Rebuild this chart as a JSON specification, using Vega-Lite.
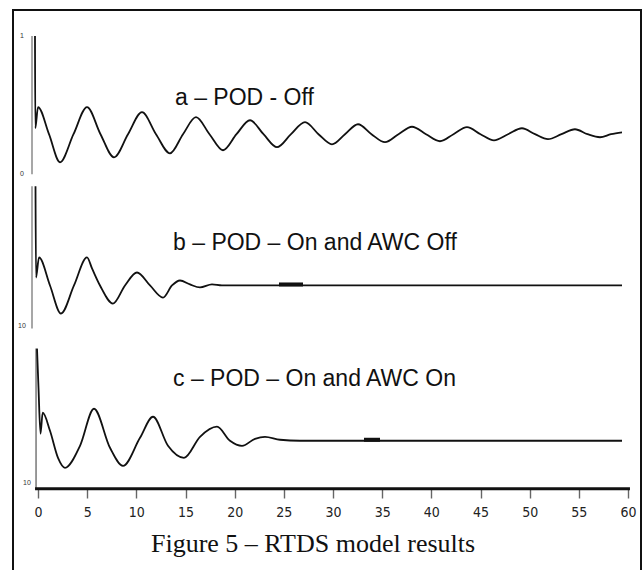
{
  "$schema": "https://vega.github.io/schema/vega-lite/v6.json",
  "width": 643,
  "height": 570,
  "autosize": {"type": "fit", "contains": "padding"},
  "padding": {"left": 13, "top": 10, "right": 2, "bottom": -1},
  "background": "white",
  "config": {
    "view": {"stroke": "#111111", "strokeWidth": 2},
    "text": {"font": "Liberation Sans", "color": "#111111"}
  },
  "datasets": {
    "signal": [
      {"panel": "a", "t": -0.305, "v": 1.0},
      {"panel": "a", "t": -0.275, "v": 0.333},
      {"panel": "a", "t": 0.0, "v": 0.486},
      {"panel": "a", "t": 1.119, "v": 0.29},
      {"panel": "a", "t": 2.237, "v": 0.087},
      {"panel": "a", "t": 3.61, "v": 0.29},
      {"panel": "a", "t": 4.983, "v": 0.486},
      {"panel": "a", "t": 6.356, "v": 0.29},
      {"panel": "a", "t": 7.729, "v": 0.123},
      {"panel": "a", "t": 9.153, "v": 0.29},
      {"panel": "a", "t": 10.576, "v": 0.449},
      {"panel": "a", "t": 12.0, "v": 0.29},
      {"panel": "a", "t": 13.424, "v": 0.152},
      {"panel": "a", "t": 14.746, "v": 0.29},
      {"panel": "a", "t": 16.068, "v": 0.413},
      {"panel": "a", "t": 17.441, "v": 0.29},
      {"panel": "a", "t": 18.814, "v": 0.174},
      {"panel": "a", "t": 20.186, "v": 0.29},
      {"panel": "a", "t": 21.559, "v": 0.391},
      {"panel": "a", "t": 22.932, "v": 0.29},
      {"panel": "a", "t": 24.305, "v": 0.196},
      {"panel": "a", "t": 25.729, "v": 0.29},
      {"panel": "a", "t": 27.153, "v": 0.377},
      {"panel": "a", "t": 28.525, "v": 0.29},
      {"panel": "a", "t": 29.898, "v": 0.217},
      {"panel": "a", "t": 31.22, "v": 0.29},
      {"panel": "a", "t": 32.542, "v": 0.362},
      {"panel": "a", "t": 33.915, "v": 0.29},
      {"panel": "a", "t": 35.288, "v": 0.232},
      {"panel": "a", "t": 36.661, "v": 0.29},
      {"panel": "a", "t": 38.034, "v": 0.344},
      {"panel": "a", "t": 39.458, "v": 0.29},
      {"panel": "a", "t": 40.881, "v": 0.239},
      {"panel": "a", "t": 42.254, "v": 0.29},
      {"panel": "a", "t": 43.627, "v": 0.341},
      {"panel": "a", "t": 45.0, "v": 0.29},
      {"panel": "a", "t": 46.373, "v": 0.246},
      {"panel": "a", "t": 47.797, "v": 0.29},
      {"panel": "a", "t": 49.22, "v": 0.333},
      {"panel": "a", "t": 50.542, "v": 0.29},
      {"panel": "a", "t": 51.864, "v": 0.254},
      {"panel": "a", "t": 53.237, "v": 0.29},
      {"panel": "a", "t": 54.61, "v": 0.326},
      {"panel": "a", "t": 55.881, "v": 0.29},
      {"panel": "a", "t": 57.153, "v": 0.268},
      {"panel": "a", "t": 58.27, "v": 0.29},
      {"panel": "a", "t": 59.39, "v": 0.304},

      {"panel": "b", "t": -0.254, "v": 1.0},
      {"panel": "b", "t": -0.203, "v": 0.359},
      {"panel": "b", "t": 0.102, "v": 0.5},
      {"panel": "b", "t": 1.22, "v": 0.303},
      {"panel": "b", "t": 2.339, "v": 0.106},
      {"panel": "b", "t": 3.661, "v": 0.303},
      {"panel": "b", "t": 4.983, "v": 0.5},
      {"panel": "b", "t": 5.492, "v": 0.423},
      {"panel": "b", "t": 6.305, "v": 0.303},
      {"panel": "b", "t": 7.627, "v": 0.176},
      {"panel": "b", "t": 8.847, "v": 0.303},
      {"panel": "b", "t": 10.068, "v": 0.394},
      {"panel": "b", "t": 11.39, "v": 0.303},
      {"panel": "b", "t": 12.712, "v": 0.218},
      {"panel": "b", "t": 13.627, "v": 0.303},
      {"panel": "b", "t": 14.441, "v": 0.338},
      {"panel": "b", "t": 15.458, "v": 0.31},
      {"panel": "b", "t": 16.475, "v": 0.289},
      {"panel": "b", "t": 17.695, "v": 0.31},
      {"panel": "b", "t": 18.712, "v": 0.303},
      {"panel": "b", "t": 59.39, "v": 0.303},

      {"panel": "c", "t": -0.102, "v": 1.0},
      {"panel": "c", "t": 0.051, "v": 0.721},
      {"panel": "c", "t": 0.254, "v": 0.393},
      {"panel": "c", "t": 0.478, "v": 0.543},
      {"panel": "c", "t": 1.22, "v": 0.414},
      {"panel": "c", "t": 2.034, "v": 0.221},
      {"panel": "c", "t": 2.746, "v": 0.15},
      {"panel": "c", "t": 4.271, "v": 0.307},
      {"panel": "c", "t": 5.695, "v": 0.571},
      {"panel": "c", "t": 7.322, "v": 0.293},
      {"panel": "c", "t": 8.644, "v": 0.164},
      {"panel": "c", "t": 10.373, "v": 0.364},
      {"panel": "c", "t": 11.695, "v": 0.514},
      {"panel": "c", "t": 13.22, "v": 0.307},
      {"panel": "c", "t": 14.847, "v": 0.221},
      {"panel": "c", "t": 16.475, "v": 0.371},
      {"panel": "c", "t": 18.203, "v": 0.443},
      {"panel": "c", "t": 19.525, "v": 0.343},
      {"panel": "c", "t": 20.746, "v": 0.307},
      {"panel": "c", "t": 22.068, "v": 0.357},
      {"panel": "c", "t": 23.085, "v": 0.371},
      {"panel": "c", "t": 24.61, "v": 0.35},
      {"panel": "c", "t": 26.644, "v": 0.343},
      {"panel": "c", "t": 59.39, "v": 0.343}
    ],
    "ylabels": [
      {"panel": "a", "v": 1.0, "label": "1"},
      {"panel": "a", "v": 0.0, "label": "0"},
      {"panel": "b", "v": 0.02, "label": "10"},
      {"panel": "c", "v": 0.04, "label": "10"}
    ]
  },
  "layer": [
    {
      "layer": [
        {
          "data": {"values": [{}]},
          "mark": {"type": "rule", "color": "#8a8a8a", "strokeWidth": 1.5},
          "encoding": {
            "x": {"datum": -0.61, "type": "quantitative", "scale": {"domain": [-2.5424, 61.322], "zero": false, "nice": false}},
            "y": {"datum": 0, "type": "quantitative", "scale": {"domain": [-2.86957, 1.18841], "zero": false, "nice": false}, "axis": null},
            "y2": {"datum": 1}
          }
        },
        {
          "data": {"name": "signal"},
          "transform": [{"filter": "datum.panel === 'a'"}],
          "mark": {"type": "line", "color": "#111111", "strokeWidth": 1.8, "interpolate": "monotone"},
          "encoding": {
            "x": {"field": "t", "type": "quantitative", "scale": {"domain": [-2.5424, 61.322], "zero": false, "nice": false}},
            "y": {"field": "v", "type": "quantitative", "scale": {"domain": [-2.86957, 1.18841], "zero": false, "nice": false}, "axis": null}
          }
        },
        {
          "data": {"name": "ylabels"},
          "transform": [{"filter": "datum.panel === 'a'"}],
          "mark": {"type": "text", "fontSize": 7, "color": "#333333", "align": "center", "baseline": "middle"},
          "encoding": {
            "x": {"datum": -1.63, "type": "quantitative", "scale": {"domain": [-2.5424, 61.322], "zero": false, "nice": false}},
            "y": {"field": "v", "type": "quantitative", "scale": {"domain": [-2.86957, 1.18841], "zero": false, "nice": false}, "axis": null},
            "text": {"field": "label"}
          }
        },
        {
          "data": {"values": [{}]},
          "mark": {"type": "text", "text": "a – POD - Off", "fontSize": 23, "align": "left", "baseline": "alphabetic"},
          "encoding": {
            "x": {"datum": 13.93, "type": "quantitative", "scale": {"domain": [-2.5424, 61.322], "zero": false, "nice": false}},
            "y": {"datum": 0.5, "type": "quantitative", "scale": {"domain": [-2.86957, 1.18841], "zero": false, "nice": false}, "axis": null}
          }
        }
      ]
    },
    {
      "layer": [
        {
          "data": {"values": [{}]},
          "mark": {"type": "rule", "color": "#8a8a8a", "strokeWidth": 1.5},
          "encoding": {
            "x": {"datum": -0.61, "type": "quantitative", "scale": {"domain": [-2.5424, 61.322], "zero": false, "nice": false}},
            "y": {"datum": 0, "type": "quantitative", "scale": {"domain": [-1.70423, 2.23944], "zero": false, "nice": false}, "axis": null},
            "y2": {"datum": 1}
          }
        },
        {
          "data": {"name": "signal"},
          "transform": [{"filter": "datum.panel === 'b'"}],
          "mark": {"type": "line", "color": "#111111", "strokeWidth": 1.8, "interpolate": "monotone"},
          "encoding": {
            "x": {"field": "t", "type": "quantitative", "scale": {"domain": [-2.5424, 61.322], "zero": false, "nice": false}},
            "y": {"field": "v", "type": "quantitative", "scale": {"domain": [-1.70423, 2.23944], "zero": false, "nice": false}, "axis": null}
          }
        },
        {
          "data": {"values": [{}]},
          "mark": {"type": "rule", "color": "#111111", "strokeWidth": 4},
          "encoding": {
            "x": {"datum": 24.51, "type": "quantitative", "scale": {"domain": [-2.5424, 61.322], "zero": false, "nice": false}},
            "x2": {"datum": 26.95},
            "y": {"datum": 0.31, "type": "quantitative", "scale": {"domain": [-1.70423, 2.23944], "zero": false, "nice": false}, "axis": null}
          }
        },
        {
          "data": {"name": "ylabels"},
          "transform": [{"filter": "datum.panel === 'b'"}],
          "mark": {"type": "text", "fontSize": 7, "color": "#333333", "align": "center", "baseline": "middle"},
          "encoding": {
            "x": {"datum": -1.63, "type": "quantitative", "scale": {"domain": [-2.5424, 61.322], "zero": false, "nice": false}},
            "y": {"field": "v", "type": "quantitative", "scale": {"domain": [-1.70423, 2.23944], "zero": false, "nice": false}, "axis": null},
            "text": {"field": "label"}
          }
        },
        {
          "data": {"values": [{}]},
          "mark": {"type": "text", "text": "b – POD – On and AWC Off", "fontSize": 23, "align": "left", "baseline": "alphabetic"},
          "encoding": {
            "x": {"datum": 13.73, "type": "quantitative", "scale": {"domain": [-2.5424, 61.322], "zero": false, "nice": false}},
            "y": {"datum": 0.549, "type": "quantitative", "scale": {"domain": [-1.70423, 2.23944], "zero": false, "nice": false}, "axis": null}
          }
        }
      ]
    },
    {
      "layer": [
        {
          "data": {"values": [{}]},
          "mark": {"type": "rule", "color": "#555555", "strokeWidth": 1.2},
          "encoding": {
            "x": {"datum": -0.2, "type": "quantitative", "scale": {"domain": [-2.5424, 61.322], "zero": false, "nice": false}},
            "y": {"datum": 0, "type": "quantitative", "scale": {"domain": [-0.58571, 3.41429], "zero": false, "nice": false}, "axis": null},
            "y2": {"datum": 1}
          }
        },
        {
          "data": {"values": [{}]},
          "mark": {"type": "rule", "color": "#111111", "strokeWidth": 3},
          "encoding": {
            "x": {"datum": -0.3, "type": "quantitative", "scale": {"domain": [-2.5424, 61.322], "zero": false, "nice": false}},
            "x2": {"datum": 60.2},
            "y": {"datum": 0, "type": "quantitative", "scale": {"domain": [-0.58571, 3.41429], "zero": false, "nice": false}, "axis": null}
          }
        },
        {
          "data": {"name": "signal"},
          "transform": [{"filter": "datum.panel === 'c'"}],
          "mark": {"type": "line", "color": "#111111", "strokeWidth": 1.8, "interpolate": "monotone"},
          "encoding": {
            "x": {
              "field": "t",
              "type": "quantitative",
              "scale": {"domain": [-2.5424, 61.322], "zero": false, "nice": false},
              "axis": {
                "values": [0, 5, 10, 15, 20, 25, 30, 35, 40, 45, 50, 55, 60],
                "orient": "bottom",
                "offset": -82,
                "domain": false,
                "grid": false,
                "ticks": true,
                "tickColor": "#666666",
                "tickSize": 9,
                "tickWidth": 1.4,
                "labelFont": "Liberation Sans Narrow, DejaVu Sans Condensed, sans-serif",
                "labelFontSize": 14,
                "labelColor": "#222222",
                "labelPadding": 7,
                "labelFlush": false,
                "labelOverlap": false,
                "title": null
              }
            },
            "y": {"field": "v", "type": "quantitative", "scale": {"domain": [-0.58571, 3.41429], "zero": false, "nice": false}, "axis": null}
          }
        },
        {
          "data": {"values": [{}]},
          "mark": {"type": "rule", "color": "#111111", "strokeWidth": 4},
          "encoding": {
            "x": {"datum": 33.15, "type": "quantitative", "scale": {"domain": [-2.5424, 61.322], "zero": false, "nice": false}},
            "x2": {"datum": 34.78},
            "y": {"datum": 0.35, "type": "quantitative", "scale": {"domain": [-0.58571, 3.41429], "zero": false, "nice": false}, "axis": null}
          }
        },
        {
          "data": {"name": "ylabels"},
          "transform": [{"filter": "datum.panel === 'c'"}],
          "mark": {"type": "text", "fontSize": 7, "color": "#333333", "align": "center", "baseline": "middle"},
          "encoding": {
            "x": {"datum": -1.12, "type": "quantitative", "scale": {"domain": [-2.5424, 61.322], "zero": false, "nice": false}},
            "y": {"field": "v", "type": "quantitative", "scale": {"domain": [-0.58571, 3.41429], "zero": false, "nice": false}, "axis": null},
            "text": {"field": "label"}
          }
        },
        {
          "data": {"values": [{}]},
          "mark": {"type": "text", "text": "c – POD – On and AWC On", "fontSize": 23, "align": "left", "baseline": "alphabetic"},
          "encoding": {
            "x": {"datum": 13.73, "type": "quantitative", "scale": {"domain": [-2.5424, 61.322], "zero": false, "nice": false}},
            "y": {"datum": 0.736, "type": "quantitative", "scale": {"domain": [-0.58571, 3.41429], "zero": false, "nice": false}, "axis": null}
          }
        },
        {
          "data": {"values": [{}]},
          "mark": {"type": "text", "text": "Figure 5 – RTDS model results", "font": "Liberation Serif", "fontSize": 26, "align": "center", "baseline": "alphabetic"},
          "encoding": {
            "x": {"datum": 27.97, "type": "quantitative", "scale": {"domain": [-2.5424, 61.322], "zero": false, "nice": false}},
            "y": {"datum": -0.45, "type": "quantitative", "scale": {"domain": [-0.58571, 3.41429], "zero": false, "nice": false}, "axis": null}
          }
        }
      ]
    }
  ],
  "resolve": {"scale": {"y": "independent"}}
}
